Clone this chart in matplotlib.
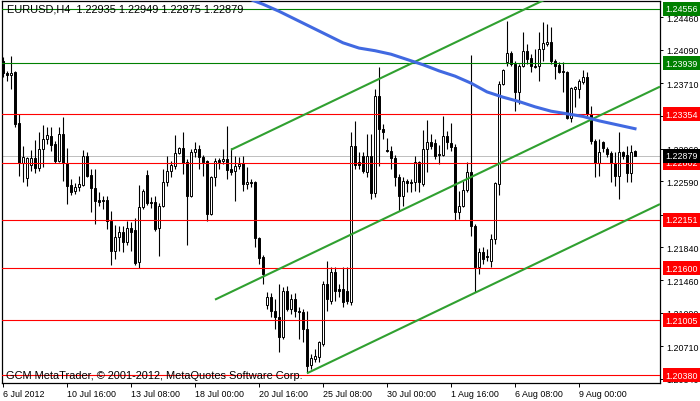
import numpy as np
import matplotlib
matplotlib.use('Agg')
import matplotlib.pyplot as plt

# EURUSD H4 candles, index 0 = 6 Jul 2012 00:00 (weekdays only, 6 bars a day)
opens = [
    1.2396, 1.2383, 1.2380, 1.2384, 1.2326, 1.2280, 1.2263, 1.2278, 1.2286, 1.2274,
    1.2296, 1.2307, 1.2311, 1.2302, 1.2282, 1.2313, 1.2280, 1.2255, 1.2248, 1.2252,
    1.2255, 1.2288, 1.2266, 1.2251, 1.2238, 1.2238, 1.2238, 1.2214, 1.2180, 1.2195,
    1.2201, 1.2190, 1.2206, 1.2203, 1.2167, 1.2230, 1.2266, 1.2235, 1.2235, 1.2206,
    1.2231, 1.2258, 1.2271, 1.2277, 1.2291, 1.2297, 1.2281, 1.2242, 1.2292, 1.2296,
    1.2287, 1.2282, 1.2222, 1.2264, 1.2283, 1.2282, 1.2284, 1.2273, 1.2271, 1.2277,
    1.2280, 1.2256, 1.2258, 1.2258, 1.2194, 1.2173, 1.2118, 1.2127, 1.2111, 1.2104,
    1.2081, 1.2134, 1.2113, 1.2125, 1.2111, 1.2110, 1.2091, 1.2049, 1.2056, 1.2059,
    1.2073, 1.2142, 1.2122, 1.2156, 1.2136, 1.2136, 1.2134, 1.2121, 1.2299, 1.2281,
    1.2288, 1.2270, 1.2288, 1.2246, 1.2356, 1.2319, 1.2295, 1.2294, 1.2286, 1.2264,
    1.2242, 1.2259, 1.2258, 1.2258, 1.2281, 1.2256, 1.2296, 1.2304, 1.2303, 1.2290,
    1.2289, 1.2311, 1.2303, 1.2298, 1.2224, 1.2231, 1.2249, 1.2270, 1.2208, 1.2161,
    1.2178, 1.2174, 1.2168, 1.2193, 1.2256, 1.2370, 1.2395, 1.2405, 1.2393, 1.2361,
    1.2390, 1.2408, 1.2400, 1.2390, 1.2390, 1.2410, 1.2416, 1.2418, 1.2396, 1.2392,
    1.2385, 1.2384, 1.2331, 1.2364, 1.2364, 1.2372, 1.2378, 1.2336, 1.2305, 1.2280,
    1.2304, 1.2296, 1.2291, 1.2280, 1.2265, 1.2292, 1.2289, 1.2268, 1.22935,
]
highs = [
    1.2401, 1.2385, 1.2402, 1.2385, 1.2336, 1.2299, 1.2287, 1.2295, 1.2306, 1.2315,
    1.2323, 1.2321, 1.2321, 1.2305, 1.2321, 1.2332, 1.2297, 1.2262, 1.2257, 1.2265,
    1.2295, 1.2292, 1.2273, 1.2273, 1.2247, 1.2242, 1.2242, 1.2225, 1.2209, 1.2208,
    1.2208, 1.2214, 1.2213, 1.2217, 1.2255, 1.2250, 1.2272, 1.2241, 1.2242, 1.2234,
    1.2273, 1.2288, 1.2282, 1.2312, 1.2298, 1.2315, 1.2284, 1.2296, 1.2304, 1.2300,
    1.2289, 1.2283, 1.2265, 1.2286, 1.2286, 1.2296, 1.2322, 1.2297, 1.2288, 1.2287,
    1.2288, 1.2275, 1.2262, 1.2259, 1.2195, 1.2175, 1.2133, 1.2132, 1.2125, 1.2142,
    1.2138, 1.2140, 1.2130, 1.2132, 1.2116, 1.2113, 1.2111, 1.2062, 1.2068, 1.2077,
    1.2145, 1.2168, 1.2161, 1.2161, 1.2142, 1.2161, 1.2161, 1.2315, 1.2328, 1.2292,
    1.2292, 1.2313, 1.2313, 1.2364, 1.2389, 1.2324, 1.2308, 1.2299, 1.2289, 1.2267,
    1.2264, 1.2262, 1.2262, 1.2288, 1.2282, 1.2318, 1.2329, 1.2313, 1.2307, 1.2300,
    1.2334, 1.2316, 1.2326, 1.2302, 1.2248, 1.2259, 1.2281, 1.2403, 1.2210, 1.2183,
    1.2184, 1.2182, 1.2199, 1.2258, 1.2374, 1.2387, 1.2442, 1.2408, 1.2396, 1.2393,
    1.2429, 1.2416, 1.2404, 1.2410, 1.2429, 1.2441, 1.2438, 1.2435, 1.2399, 1.2395,
    1.2395, 1.2385, 1.2367, 1.2368, 1.2376, 1.2386, 1.2384, 1.2345, 1.2307, 1.2307,
    1.2305, 1.2298, 1.2294, 1.2292, 1.2315, 1.2294, 1.2299, 1.2300, 1.22949,
]
lows = [
    1.2378, 1.2373, 1.2364, 1.2321, 1.2265, 1.2258, 1.2254, 1.2271, 1.2268, 1.2271,
    1.2275, 1.2302, 1.2294, 1.2280, 1.2281, 1.2259, 1.2233, 1.2243, 1.2244, 1.2248,
    1.2254, 1.2264, 1.2224, 1.2210, 1.2231, 1.2227, 1.2205, 1.2164, 1.2170, 1.2180,
    1.2178, 1.2186, 1.2180, 1.2164, 1.2160, 1.2227, 1.2232, 1.2229, 1.2202, 1.2174,
    1.2230, 1.2254, 1.2264, 1.2273, 1.2290, 1.2267, 1.2186, 1.2241, 1.2287, 1.2273,
    1.2265, 1.2214, 1.2221, 1.2254, 1.2273, 1.2279, 1.2262, 1.2266, 1.2237, 1.2273,
    1.2248, 1.2250, 1.2252, 1.2184, 1.2165, 1.2142, 1.2113, 1.2104, 1.2091, 1.2064,
    1.2079, 1.2111, 1.2108, 1.2104, 1.2079, 1.2076, 1.2040, 1.2045, 1.2053, 1.2053,
    1.2071, 1.2111, 1.2119, 1.2122, 1.2127, 1.2116, 1.2119, 1.2118, 1.2273, 1.2273,
    1.2268, 1.2264, 1.2239, 1.2241, 1.2277, 1.2307, 1.2292, 1.2273, 1.2254, 1.2225,
    1.2231, 1.2247, 1.2247, 1.2248, 1.2247, 1.2254, 1.2270, 1.2296, 1.2284, 1.2279,
    1.2288, 1.2296, 1.2294, 1.2215, 1.2216, 1.2230, 1.2247, 1.2197, 1.2133, 1.2153,
    1.2165, 1.2168, 1.2161, 1.2187, 1.2243, 1.2369, 1.2391, 1.2390, 1.2339, 1.2347,
    1.2389, 1.2393, 1.2384, 1.2388, 1.2374, 1.2396, 1.2413, 1.2393, 1.2376, 1.2383,
    1.2361, 1.2330, 1.2327, 1.2344, 1.2354, 1.2370, 1.2334, 1.2302, 1.2264, 1.2265,
    1.2292, 1.2287, 1.2258, 1.2254, 1.2239, 1.2284, 1.2258, 1.2258, 1.22875,
]
closes = [
    1.2383, 1.2380, 1.2383, 1.2324, 1.2280, 1.2287, 1.2286, 1.2286, 1.2274, 1.2296,
    1.2307, 1.2312, 1.2300, 1.2282, 1.2313, 1.2280, 1.2254, 1.2247, 1.2252, 1.2256,
    1.2288, 1.2265, 1.2251, 1.2237, 1.2235, 1.2237, 1.2214, 1.2180, 1.2195, 1.2201,
    1.2190, 1.2206, 1.2201, 1.2166, 1.2230, 1.2248, 1.2234, 1.2234, 1.2205, 1.2231,
    1.2258, 1.2271, 1.2278, 1.2291, 1.2297, 1.2280, 1.2242, 1.2292, 1.2296, 1.2287,
    1.2281, 1.2222, 1.2264, 1.2282, 1.2281, 1.2284, 1.2272, 1.2270, 1.2277, 1.2279,
    1.2256, 1.2258, 1.2257, 1.2194, 1.2172, 1.2153, 1.2127, 1.2111, 1.2104, 1.2081,
    1.2134, 1.2113, 1.2125, 1.2111, 1.2110, 1.2091, 1.2048, 1.2057, 1.2060, 1.2076,
    1.2142, 1.2125, 1.2156, 1.2134, 1.2134, 1.2121, 1.2122, 1.2299, 1.2278, 1.2278,
    1.2271, 1.2288, 1.2246, 1.2356, 1.2319, 1.2315, 1.2294, 1.2286, 1.2264, 1.2242,
    1.2259, 1.2257, 1.2257, 1.2281, 1.2258, 1.2296, 1.2304, 1.2299, 1.2288, 1.2289,
    1.2311, 1.2304, 1.2298, 1.2224, 1.2231, 1.2249, 1.2270, 1.2208, 1.2161, 1.2178,
    1.2170, 1.2173, 1.2193, 1.2257, 1.2370, 1.2386, 1.2405, 1.2393, 1.2361, 1.2390,
    1.2408, 1.2399, 1.2390, 1.2389, 1.2410, 1.2417, 1.2418, 1.2396, 1.2390, 1.2384,
    1.2384, 1.2331, 1.2365, 1.2367, 1.2374, 1.2378, 1.2336, 1.2305, 1.2280, 1.2292,
    1.2297, 1.2290, 1.2280, 1.2265, 1.2292, 1.2288, 1.2268, 1.2292, 1.22879,
]

# moving average (blue), read every 4 bars
ma_idx = [61, 65, 69, 73, 77, 81, 85, 89, 93, 97, 101, 105, 109, 113, 117,
          121, 125, 129, 133, 137, 141, 145, 149, 153, 157, 158]
ma_val = [1.2468, 1.2461, 1.2453, 1.2444, 1.2435, 1.2426, 1.2417, 1.2411, 1.2408,
          1.2404, 1.2398, 1.2392, 1.2385, 1.2379, 1.2371, 1.2361, 1.2355, 1.2350,
          1.2344, 1.2339, 1.2336, 1.2333, 1.2328, 1.2324, 1.2320, 1.2319]

# rising channel trend lines (start bar, start price, end bar, end price)
trend_x0 = [57, 53, 76]
trend_y0 = [1.2295, 1.2124, 1.2040]
trend_x1 = [150, 164.25, 164.25]
trend_y1 = [1.2498, 1.2367, 1.2233]

green_levels = [1.24556, 1.23939]
red_levels = [1.23354, 1.22802, 1.22151, 1.21600, 1.21005, 1.20380]
bid = 1.22879

price_ticks = [1.24460, 1.24090, 1.23710, 1.23340, 1.22960, 1.22590,
               1.22210, 1.21840, 1.21460, 1.21090, 1.20710, 1.20340]
date_ticks = [0, 16, 32, 48, 64, 80, 96, 112, 128, 144]
date_labels = ['6 Jul 2012', '10 Jul 16:00', '13 Jul 08:00', '18 Jul 00:00',
               '20 Jul 16:00', '25 Jul 08:00', '30 Jul 00:00', '1 Aug 16:00',
               '6 Aug 08:00', '9 Aug 00:00']

plt.rcParams['font.family'] = ['Liberation Sans', 'DejaVu Sans']
FS = 6.4

fig = plt.figure(figsize=(7.0, 4.02), dpi=100, facecolor='white')
W, H = 700, 402
ax = fig.add_axes([2 / W, (H - 384) / H, 658 / W, 382 / H])
ax.set_facecolor('white')

o = np.array(opens)
h = np.array(highs)
l = np.array(lows)
c = np.array(closes)
idx = np.arange(len(c))
up = c >= o

# candles
ax.vlines(idx, l, h, color='black', lw=0.8, zorder=2)
body_lo = np.minimum(o, c)
body_h = np.maximum(np.abs(c - o), 0.00002)
ax.bar(idx, body_h, bottom=body_lo, width=0.55,
       color=np.where(up, 'white', 'black'), edgecolor='black',
       linewidth=0.7, zorder=3)

# bid line
ax.axhline(bid, color='#C0C0C0', lw=0.72, zorder=1)

# horizontal levels
for lv in green_levels:
    ax.axhline(lv, color='#008000', lw=0.8, zorder=4)
for lv in red_levels:
    ax.axhline(lv, color='#FF0000', lw=0.8, zorder=4)

# channel
for x0, y0, x1, y1 in zip(trend_x0, trend_y0, trend_x1, trend_y1):
    ax.plot([x0, x1], [y0, y1], color='#30A030', lw=1.5, zorder=5,
            solid_capstyle='butt')

# moving average
ax.plot(ma_idx, ma_val, color='#4169E1', lw=2.2, zorder=5)

ax.set_xlim(-0.25, 164.25)
ax.set_ylim(1.20289, 1.24647)

# axes styling
for s in ax.spines.values():
    s.set_color('black')
    s.set_linewidth(0.9)
ax.yaxis.tick_right()
ax.set_yticks(price_ticks)
ax.set_yticklabels([f'{p:.5f}' for p in price_ticks], fontsize=FS)
ax.tick_params(axis='y', direction='out', length=2.5, width=0.7, pad=2,
               colors='black')
ax.set_xticks(date_ticks)
ax.set_xticklabels(date_labels, fontsize=FS, ha='left')
ax.tick_params(axis='x', direction='out', length=3, width=0.7, pad=1,
               colors='black')

# price tags on the right axis (they cover the tick labels, as in the terminal)
tr = ax.get_yaxis_transform()
tags = [(lv, '#008000') for lv in green_levels] + \
       [(lv, '#FF0000') for lv in red_levels] + [(bid, 'black')]
for lv, col in tags:
    ax.text(1.0076, lv, f'{lv:.5f}', transform=tr, fontsize=FS,
            color='white', ha='left', va='center', clip_on=False, zorder=10,
            bbox=dict(boxstyle='square,pad=0.28', fc=col, ec='none'))

fig.text(7 / W, 1 - 10 / H, 'EURUSD,H4  1.22935 1.22949 1.22875 1.22879',
         fontsize=7.9, color='black', ha='left', va='center')
fig.text(6 / W, 1 - 376 / H,
         'GCM MetaTrader, \u00a9 2001-2012, MetaQuotes Software Corp.',
         fontsize=7.9, color='black', ha='left', va='center')

fig.savefig('out.png', dpi=100, facecolor='white')
